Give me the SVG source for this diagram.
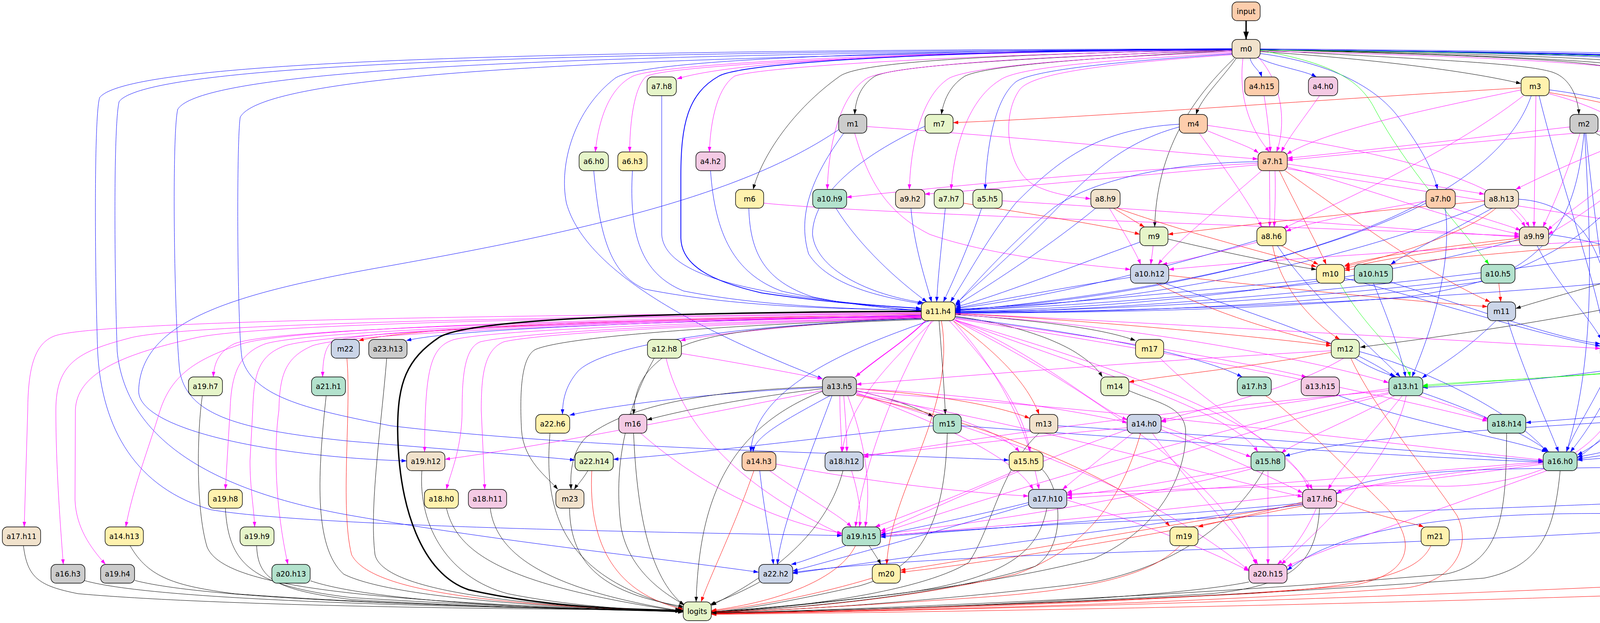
<svg xmlns="http://www.w3.org/2000/svg" width="5426" height="1595" viewBox="0 0 5426 1595">
<style>
.e{fill:none;stroke-width:1}
.k{stroke:#000;marker-end:url(#ak)}
.b{stroke:#00f;marker-end:url(#ab)}
.m{stroke:#f0f;marker-end:url(#am)}
.r{stroke:#f00;marker-end:url(#ar)}
.g{stroke:#0f0;marker-end:url(#ag)}
.w2{stroke-width:2}
.w3{stroke-width:3.5;marker-end:url(#ak3)}
.node rect{stroke:#000;stroke-width:1.4}
.node text{font-family:"DejaVu Sans","Liberation Sans",sans-serif;font-size:18.67px;text-anchor:middle;fill:#000}
.f1{fill:#b3e2cd}.f2{fill:#fdcdac}.f3{fill:#cbd5e8}.f4{fill:#f4cae4}.f5{fill:#e6f5c9}.f6{fill:#fff2ae}.f7{fill:#f1e2cc}.f8{fill:#cccccc}
</style>
<defs>
<marker id="ak" viewBox="0 0 13 9" refX="13" refY="4.5" markerWidth="13" markerHeight="9" markerUnits="userSpaceOnUse" orient="auto"><path d="M0,0 L13,4.5 L0,9 z" fill="#000"/></marker>
<marker id="ab" viewBox="0 0 13 9" refX="13" refY="4.5" markerWidth="13" markerHeight="9" markerUnits="userSpaceOnUse" orient="auto"><path d="M0,0 L13,4.5 L0,9 z" fill="#00f"/></marker>
<marker id="am" viewBox="0 0 13 9" refX="13" refY="4.5" markerWidth="13" markerHeight="9" markerUnits="userSpaceOnUse" orient="auto"><path d="M0,0 L13,4.5 L0,9 z" fill="#f0f"/></marker>
<marker id="ar" viewBox="0 0 13 9" refX="13" refY="4.5" markerWidth="13" markerHeight="9" markerUnits="userSpaceOnUse" orient="auto"><path d="M0,0 L13,4.5 L0,9 z" fill="#f00"/></marker>
<marker id="ag" viewBox="0 0 13 9" refX="13" refY="4.5" markerWidth="13" markerHeight="9" markerUnits="userSpaceOnUse" orient="auto"><path d="M0,0 L13,4.5 L0,9 z" fill="#0f0"/></marker>
<marker id="ak3" viewBox="0 0 20 14" refX="20" refY="7" markerWidth="20" markerHeight="14" markerUnits="userSpaceOnUse" orient="auto"><path d="M0,0 L20,7 L0,14 z" fill="#000"/></marker>
</defs>
<rect width="5426" height="1595" fill="#fff"/>
<g id="connectors">
<path class="e k w3" d="M3190 53 L3190 101"/>
<path class="e k" d="M3154 128 C2700 145 2300 165 2240 195 C2200 220 2190 260 2188 293"/>
<path class="e k" d="M3154 130 C2750 150 2520 170 2470 195 C2430 220 2415 260 2410 293"/>
<path class="e k" d="M3154 127 C2500 140 2200 160 2150 195 C2030 280 1950 400 1928 485"/>
<path class="e k" d="M3165 149 C3130 200 3075 250 3062 293"/>
<path class="e k" d="M3226 132 C3500 150 3750 180 3894 214"/>
<path class="e k" d="M3226 128 C3600 150 3900 160 3975 185 C4020 200 4040 250 4042 293"/>
<path class="e k" d="M3226 126 C3700 140 4100 150 4200 175 C4270 195 4290 250 4295 293"/>
<path class="e k" d="M3226 127 C3700 140 4100 150 4170 185 C4225 215 4225 330 4215 389"/>
<path class="e k" d="M3160 149 C3000 300 2960 450 2956 581"/>
<path class="e k" d="M3226 127 C3900 140 4300 150 4380 195 C4470 250 4490 400 4480 500 C4460 650 4100 720 3880 790"/>
<path class="e k" d="M3226 127 C4300 140 4700 160 4800 200 C4880 240 4870 450 4700 600 C4500 760 3700 860 3482 889"/>
<path class="e b" d="M3200 149 C3205 170 3225 180 3230 197"/>
<path class="e b" d="M3215 145 C3260 170 3340 180 3370 197"/>
<path class="e m" d="M3154 125 C2500 130 1900 150 1733 202"/>
<path class="e m" d="M3154 125 C2400 130 1700 160 1620 195 C1550 230 1530 330 1524 389"/>
<path class="e m" d="M3154 126 C2400 132 1720 165 1655 195 C1620 225 1612 330 1612 389"/>
<path class="e m" d="M3154 128 C2500 138 1950 170 1880 195 C1830 230 1818 330 1816 389"/>
<path class="e m" d="M3154 130 C2600 145 2280 170 2220 200 C2140 250 2120 400 2118 485"/>
<path class="e m" d="M3154 133 C2700 150 2480 175 2430 200 C2350 250 2330 400 2328 485"/>
<path class="e m" d="M3154 136 C2800 155 2600 175 2560 205 C2470 260 2440 400 2435 485"/>
<path class="e b" d="M3154 138 C2850 158 2640 180 2600 210 C2540 260 2525 400 2522 485"/>
<path class="e m" d="M3154 140 C2800 165 2640 190 2610 230 C2560 300 2580 440 2650 475 C2700 500 2760 505 2792 509"/>
<path class="e m" d="M3182 149 C3170 250 3200 330 3250 389"/>
<path class="e m" d="M3220 145 C3290 220 3290 330 3268 389"/>
<path class="e b" d="M3226 137 C3400 160 3520 220 3580 300 C3640 380 3670 440 3680 485"/>
<path class="e g" d="M3226 129 C3400 160 3480 200 3520 280 C3600 430 3720 560 3812 677"/>
<path class="e m" d="M3226 131 C3900 145 4250 170 4330 210 C4420 260 4430 450 4410 581"/>
<path class="e b" d="M3226 125 C4600 135 5200 160 5300 195 C5360 230 5378 320 5381 389"/>
<path class="e b w2" d="M3154 125 C2400 130 1900 160 1840 195 C1760 240 1743 320 1743 450 L1743 610 C1745 680 1820 720 1950 750 C2150 780 2300 785 2358 790"/>
<path class="e b" d="M3154 125 C2300 130 1650 150 1575 200 C1470 280 1430 420 1450 520 C1500 700 1800 850 2106 970"/>
<path class="e b" d="M3154 125 C1500 128 330 150 255 250 C240 300 243 700 250 900 C260 1100 350 1250 540 1305 C800 1350 1800 1365 2156 1371"/>
<path class="e b" d="M3154 126 C1500 132 380 160 305 260 C290 320 293 700 300 900 C320 1100 500 1250 900 1320 C1300 1390 1700 1430 1942 1465"/>
<path class="e b" d="M3154 127 C1600 135 520 170 455 280 C440 340 445 800 460 950 C480 1060 600 1100 900 1130 C1200 1155 1400 1170 1472 1178"/>
<path class="e b" d="M3154 128 C1700 140 680 180 615 300 C605 360 607 850 620 920 C650 1020 800 1050 1000 1090 C1500 1150 2200 1160 2583 1178"/>
<path class="e b" d="M3226 127 C4400 140 4800 160 4835 280 L4838 900 C4838 1100 4300 1160 4038 1178"/>
<path class="e b" d="M3226 127 C4500 140 4910 160 4947 280 L4950 850 C4950 1000 4200 1060 3906 1082"/>
<path class="e b" d="M3226 127 C4600 140 5050 160 5090 290 L5093 1100 C5093 1200 4500 1190 3900 1200 C3600 1205 3470 1230 3421 1265"/>
<path class="e b" d="M3226 127 C4700 140 5100 165 5143 300 L5146 1150 C5146 1280 4000 1290 3000 1330 C2600 1345 2350 1365 2254 1372"/>
<path class="e b" d="M3226 127 C4700 140 5150 170 5192 300 L5195 1200 C5195 1350 3500 1390 2700 1420 C2300 1435 2100 1455 2029 1466"/>
<path class="e b" d="M3226 127 C4800 140 5250 170 5295 300 L5298 1040 C5298 1200 4900 1340 4600 1330 C4000 1300 3500 1300 3295 1460"/>
<path class="e b" d="M3226 127 C4750 140 5200 170 5246 300 L5249 900 C5249 1000 4800 1040 4300 1070 C3800 1100 3450 1120 3289 1168"/>
<path class="e b" d="M3226 127 C4300 140 4660 160 4697 270 L4700 700 C4700 800 4400 870 4184 892"/>
<path class="e g" d="M3226 128 C4600 142 4990 170 5036 290 L5039 600 C5039 800 4600 900 4300 940 C4000 970 3750 975 3642 987"/>
<path class="e r" d="M3894 225 C3300 260 2800 300 2440 314"/>
<path class="e r" d="M3966 237 C4100 260 4200 285 4267 307"/>
<path class="e m" d="M3895 230 C3700 270 3400 330 3294 395"/>
<path class="e m" d="M3900 245 C3700 400 3400 530 3285 585"/>
<path class="e m" d="M3932 245 L3927 581"/>
<path class="e m" d="M3966 240 C4200 300 4360 450 4396 581"/>
<path class="e b" d="M3920 245 C3850 450 3500 700 2446 796"/>
<path class="e b" d="M3940 245 C3990 450 4080 700 4110 869"/>
<path class="e b" d="M3966 230 C4200 260 4400 340 4500 450 C4650 620 4700 850 4500 1000 C4300 1120 4100 1160 4038 1170"/>
<path class="e m" d="M2219 324 C2600 350 3000 390 3220 407"/>
<path class="e m" d="M2188 341 C2220 450 2260 540 2380 600 C2550 660 2800 680 2894 690"/>
<path class="e b" d="M2160 341 C2080 450 2040 550 2070 650 C2120 730 2250 760 2362 778"/>
<path class="e b" d="M2147 332 C1900 500 1500 590 1000 680 C600 750 360 820 355 1000 C352 1100 700 1170 1041 1180"/>
<path class="e b" d="M2368 323 C2200 400 2080 500 2080 600 C2090 700 2250 760 2365 775"/>
<path class="e m" d="M3092 335 C3150 360 3200 375 3222 392"/>
<path class="e m" d="M3070 341 C3150 450 3210 540 3230 581"/>
<path class="e m" d="M3091 321 C3500 380 3850 450 3915 581"/>
<path class="e b" d="M3019 318 C2800 330 2700 420 2600 520 C2520 620 2470 720 2433 773"/>
<path class="e b" d="M3019 325 C2850 370 2760 480 2680 560 C2580 660 2500 730 2446 778"/>
<path class="e m" d="M4019 325 C3800 350 3500 385 3296 405"/>
<path class="e m" d="M4045 341 C4010 450 3970 540 3950 581"/>
<path class="e k" d="M4085 341 C4120 360 4150 375 4172 389"/>
<path class="e b" d="M4055 341 C4040 500 4000 650 3800 720 C3300 790 2800 800 2446 801"/>
<path class="e b" d="M4060 341 C4080 550 4110 750 4125 869"/>
<path class="e b" d="M4057 341 C4070 600 4090 900 4010 1157"/>
<path class="e k" d="M4280 341 C4260 360 4245 375 4235 389"/>
<path class="e m" d="M4267 322 C3900 350 3500 390 3296 410"/>
<path class="e m" d="M4267 325 C4100 380 3950 450 3880 485"/>
<path class="e m" d="M4280 341 C4150 450 4000 550 3962 590"/>
<path class="e m" d="M4310 341 C4340 450 4360 520 4370 581"/>
<path class="e b" d="M4320 341 C4400 500 4420 700 4350 800 C4280 860 4220 880 4184 890"/>
<path class="e b" d="M4339 321 C4650 360 4950 500 5000 700 C5030 900 4600 1100 4038 1175"/>
<path class="e b" d="M4335 340 C4500 500 4600 700 4500 850 C4300 950 3800 985 3642 992"/>
<path class="e m" d="M3236 245 C3245 300 3250 350 3252 389"/>
<path class="e m" d="M3378 245 C3340 300 3300 350 3280 389"/>
<path class="e b" d="M1694 245 L1694 600 C1700 700 1900 760 2358 790"/>
<path class="e b" d="M1520 437 C1535 600 1560 700 1650 740 C1900 790 2200 792 2358 793"/>
<path class="e b" d="M1619 437 C1610 600 1640 700 1750 745 C1950 785 2200 792 2358 794"/>
<path class="e b" d="M1819 437 C1830 600 1880 700 2000 745 C2150 780 2300 790 2358 795"/>
<path class="e m" d="M3220 418 C2800 440 2400 480 2167 505"/>
<path class="e m" d="M3220 422 C2900 450 2600 480 2367 497"/>
<path class="e m" d="M3296 420 C3500 450 3700 480 3800 497"/>
<path class="e m" d="M3250 437 C3250 500 3252 550 3250 581"/>
<path class="e m" d="M3264 437 C3266 500 3263 550 3262 581"/>
<path class="e m" d="M3296 428 C3500 480 3700 560 3890 600"/>
<path class="e m" d="M3296 432 C3700 500 4100 560 4348 598"/>
<path class="e m" d="M3230 437 C3100 550 3000 630 2965 677"/>
<path class="e r" d="M3275 437 C3320 530 3370 620 3395 677"/>
<path class="e r" d="M3290 437 C3450 550 3650 700 3815 773"/>
<path class="e b" d="M3220 414 C3000 416 2800 460 2700 530 C2600 610 2500 720 2446 781"/>
<path class="e m" d="M4190 437 C4100 520 4000 580 3963 600"/>
<path class="e b" d="M4190 437 C4100 600 3900 720 3600 760 C3200 795 2800 800 2446 802"/>
<path class="e b" d="M4215 437 C4230 600 4190 780 4160 869"/>
<path class="e b" d="M4225 437 C4260 700 4150 1000 4020 1157"/>
<path class="e r" d="M5380 437 C5375 600 5367 800 5367 1000 L5365 1370 C5365 1430 5250 1470 5000 1490 C4000 1540 2600 1565 1821 1573"/>
<path class="e b" d="M1917 533 C1920 650 1960 720 2080 760 C2200 785 2300 790 2358 796"/>
<path class="e m" d="M1955 520 C2200 545 3000 570 3890 604"/>
<path class="e b" d="M2140 533 C2200 630 2300 720 2373 773"/>
<path class="e b" d="M2332 533 C2340 630 2370 720 2385 773"/>
<path class="e b" d="M2420 533 C2410 630 2400 720 2398 773"/>
<path class="e r" d="M2466 520 C2650 550 2850 580 2918 600"/>
<path class="e b" d="M2513 533 C2480 630 2440 720 2415 773"/>
<path class="e m" d="M2565 514 C3000 540 3500 580 3890 607"/>
<path class="e r" d="M2850 533 C2880 550 2910 570 2930 581"/>
<path class="e m" d="M2840 533 C2880 600 2910 650 2920 677"/>
<path class="e r" d="M2860 533 C3050 600 3250 650 3370 683"/>
<path class="e b" d="M2805 533 C2700 620 2550 720 2446 783"/>
<path class="e m" d="M3650 515 C3500 540 3350 570 3292 592"/>
<path class="e m" d="M3720 533 C3800 560 3870 580 3893 590"/>
<path class="e b" d="M3650 520 C3400 650 2900 770 2446 793"/>
<path class="e b" d="M3700 533 C3720 700 3650 880 3615 965"/>
<path class="e r" d="M3801 515 C3500 540 3150 580 2990 600"/>
<path class="e m" d="M3865 533 C3880 550 3895 565 3905 581"/>
<path class="e r" d="M3830 533 C3750 600 3550 660 3442 682"/>
<path class="e b" d="M3820 533 C3700 600 3600 650 3560 677"/>
<path class="e b" d="M3801 523 C3500 650 3000 770 2446 795"/>
<path class="e b" d="M3888 510 C4050 520 4120 650 4130 869"/>
<path class="e m" d="M2952 629 C2950 650 2948 660 2946 677"/>
<path class="e k" d="M2990 612 C3150 650 3300 680 3370 690"/>
<path class="e b" d="M2918 620 C2750 680 2550 760 2446 786"/>
<path class="e m" d="M3219 620 C3100 650 3020 670 2975 677"/>
<path class="e r" d="M3280 629 C3320 650 3350 665 3375 677"/>
<path class="e b" d="M3219 615 C3000 680 2700 760 2446 790"/>
<path class="e r" d="M3258 629 C3280 750 3380 840 3430 869"/>
<path class="e b" d="M3270 629 C3350 750 3500 880 3585 965"/>
<path class="e r" d="M3890 610 C3700 630 3500 660 3442 680"/>
<path class="e r" d="M3890 615 C3700 640 3520 665 3442 688"/>
<path class="e b" d="M3965 600 C4100 620 4200 650 4260 677"/>
<path class="e b" d="M3890 612 C3600 700 3000 790 2446 797"/>
<path class="e b" d="M3935 629 C3980 720 4060 800 4100 869"/>
<path class="e m" d="M4348 605 C3800 630 3300 660 2992 690"/>
<path class="e r" d="M4348 608 C3900 640 3600 670 3442 692"/>
<path class="e b" d="M4348 615 C3900 700 3000 795 2446 800"/>
<path class="e b" d="M4380 629 C4340 700 4250 830 4180 872"/>
<path class="e g" d="M4414 629 C4470 700 4480 900 4400 930 C4100 960 3800 975 3642 990"/>
<path class="e b" d="M4395 629 C4400 800 4250 1050 4038 1165"/>
<path class="e b" d="M2894 710 C2700 740 2550 770 2446 789"/>
<path class="e r" d="M2992 705 C3300 740 3600 770 3808 785"/>
<path class="e r" d="M2960 725 C3100 800 3300 860 3408 880"/>
<path class="e b" d="M2980 725 C3200 800 3450 880 3570 965"/>
<path class="e b" d="M3370 715 C3000 750 2700 780 2446 792"/>
<path class="e g" d="M3430 725 C3500 850 3600 920 3610 965"/>
<path class="e b" d="M3442 712 C3700 780 3950 860 4097 886"/>
<path class="e b" d="M3467 715 C3100 755 2750 785 2446 794"/>
<path class="e b" d="M3516 725 C3560 830 3590 920 3598 965"/>
<path class="e b" d="M3560 722 C3800 800 4000 870 4097 880"/>
<path class="e b" d="M3792 712 C3400 760 2900 795 2446 798"/>
<path class="e r" d="M3837 725 L3842 773"/>
<path class="e b" d="M4260 710 C3800 760 3000 800 2446 799"/>
<path class="e b" d="M4330 725 C4360 740 4380 755 4390 773"/>
<path class="e b" d="M4290 725 C4230 780 4180 830 4170 869"/>
<path class="e b" d="M4300 725 C4290 900 4150 1100 4038 1172"/>
<path class="e b" d="M3830 821 C3750 900 3680 940 3640 968"/>
<path class="e b" d="M3860 821 C3900 950 3960 1080 3990 1157"/>
<path class="e r" d="M4448 803 C4750 870 4980 950 5040 1030 C5090 1100 5097 1200 5097 1370 C5097 1420 5000 1450 4900 1460 C4000 1520 2600 1560 1821 1572"/>
<path class="e r" d="M2359 805 C1800 815 1100 830 918 872"/>
<path class="e b" d="M2359 807 C1900 820 1200 835 1040 872"/>
<path class="e m" d="M2359 808 C2100 830 1850 850 1742 872"/>
<path class="e m" d="M2359 810 C1500 820 700 840 600 880 C560 900 548 930 546 965"/>
<path class="e m" d="M2359 811 C1600 822 950 840 850 875 C830 890 826 930 826 965"/>
<path class="e m" d="M2359 800 C1400 805 250 820 140 860 C85 880 72 950 71 1050 L62 1349"/>
<path class="e m" d="M2359 802 C1400 810 450 830 330 866 C200 900 143 930 143 1050 C143 1200 155 1350 162 1445"/>
<path class="e m" d="M2359 803 C1500 812 650 830 500 865 C300 910 196 960 193 1050 L192 1280 C195 1350 230 1400 270 1445"/>
<path class="e m" d="M2359 806 C1500 815 750 840 620 880 C500 920 440 960 410 1050 C380 1150 340 1250 322 1349"/>
<path class="e m" d="M2359 808 C1600 818 800 845 680 880 C610 905 592 960 589 1050 L577 1253"/>
<path class="e m" d="M2359 809 C1650 820 850 848 730 885 C660 910 650 960 647 1050 L640 1180 C640 1250 650 1300 652 1349"/>
<path class="e m" d="M2359 810 C1700 822 900 850 800 885 C730 915 716 960 714 1050 C700 1150 705 1300 737 1445"/>
<path class="e m" d="M2359 812 C1800 825 1250 845 1160 870 C1100 890 1088 950 1087 1157"/>
<path class="e m" d="M2359 813 C1850 826 1350 848 1230 875 C1190 890 1183 960 1183 1050 C1183 1150 1150 1220 1143 1253"/>
<path class="e m" d="M2359 814 C1900 828 1400 850 1290 875 C1240 895 1232 960 1232 1050 L1241 1253"/>
<path class="e k" d="M2359 815 C1900 830 1450 860 1370 895 C1335 915 1330 1000 1335 1100 C1340 1180 1400 1220 1428 1253"/>
<path class="e k w3" d="M2359 797 C1600 800 1200 820 1125 863 C1040 920 1018 980 1018 1100 C1020 1300 1080 1470 1200 1510 C1400 1555 1600 1560 1749 1563"/>
<path class="e b" d="M2359 816 C1900 830 1550 880 1480 950 C1445 990 1440 1030 1440 1061"/>
<path class="e m w2" d="M2370 821 C2310 880 2240 920 2190 965"/>
<path class="e k" d="M2359 818 C2000 830 1800 850 1720 900 C1640 950 1625 1000 1622 1061"/>
<path class="e k" d="M2404 821 C2410 900 2418 1000 2420 1061"/>
<path class="e k" d="M2446 810 C2600 830 2700 870 2750 900 C2790 925 2810 945 2822 965"/>
<path class="e k" d="M2446 805 C2650 820 2820 840 2907 872"/>
<path class="e r" d="M2446 803 C2800 820 3200 860 3408 885"/>
<path class="e m" d="M2446 802 C3000 830 3700 870 4097 892"/>
<path class="e b" d="M2446 812 C2750 850 3050 900 3180 965"/>
<path class="e m" d="M2446 814 C2800 860 3150 920 3345 965"/>
<path class="e m" d="M2446 806 C2900 830 3400 930 3555 980"/>
<path class="e r" d="M2440 821 C2550 900 2630 980 2660 1061"/>
<path class="e m" d="M2440 818 C2650 900 2800 1040 2886 1075"/>
<path class="e m" d="M2446 816 C3000 900 3500 1000 3808 1078"/>
<path class="e m" d="M2444 818 C2800 950 3150 1050 3220 1157"/>
<path class="e m" d="M2430 821 C2550 950 2620 1050 2637 1157"/>
<path class="e b" d="M2380 821 C2150 900 1930 1000 1922 1157"/>
<path class="e m" d="M2390 821 C2250 950 2170 1050 2156 1157"/>
<path class="e m" d="M2440 821 C2600 1000 2640 1150 2660 1253"/>
<path class="e m" d="M2446 820 C2900 950 3300 1100 3350 1253"/>
<path class="e m" d="M2385 821 C2280 1000 2210 1200 2190 1349"/>
<path class="e m" d="M2446 821 C2800 1000 3150 1250 3215 1445"/>
<path class="e r" d="M2410 821 C2450 1050 2280 1250 2270 1445"/>
<path class="e r" d="M888 917 C900 1050 870 1300 900 1420 C950 1520 1300 1550 1749 1566"/>
<path class="e k" d="M990 917 C975 1100 945 1300 960 1420 C980 1510 1300 1550 1749 1567"/>
<path class="e m" d="M1744 905 C1900 930 2050 960 2106 970"/>
<path class="e m" d="M1705 917 C1750 1100 1900 1250 2156 1369"/>
<path class="e k" d="M1675 917 C1600 1050 1570 1200 1590 1350 C1610 1460 1700 1520 1752 1548"/>
<path class="e m" d="M2970 917 C3100 1050 3300 1150 3360 1253"/>
<path class="e r" d="M3408 902 C3200 940 3000 960 2890 978"/>
<path class="e m" d="M3408 898 C3000 920 2500 960 2192 984"/>
<path class="e b" d="M3468 917 C3520 950 3560 960 3575 965"/>
<path class="e m" d="M3440 917 C3300 1000 3100 1040 2972 1078"/>
<path class="e b" d="M3480 900 C3700 960 3900 1080 3960 1157"/>
<path class="e r" d="M3458 917 C3520 1050 3650 1200 3730 1320 C3770 1400 3720 1490 3600 1505 C3000 1550 2200 1565 1821 1571"/>
<path class="e b" d="M4130 917 C4100 1000 4030 1100 4010 1157"/>
<path class="e m" d="M4150 917 C4180 1100 4000 1240 3700 1245 C3400 1240 3000 1250 2731 1265"/>
<path class="e k" d="M518 1013 C505 1100 500 1300 530 1400 C570 1500 900 1540 1749 1566"/>
<path class="e k" d="M835 1013 C815 1200 800 1400 880 1470 C1000 1530 1400 1555 1749 1567"/>
<path class="e b" d="M2106 992 C1900 1000 1600 1030 1458 1063"/>
<path class="e k" d="M2105 995 C1900 1020 1750 1050 1656 1075"/>
<path class="e k" d="M2192 1000 C2280 1020 2340 1040 2389 1067"/>
<path class="e r" d="M2192 995 C2400 1010 2560 1040 2636 1071"/>
<path class="e b" d="M2125 1013 C2000 1080 1930 1120 1928 1157"/>
<path class="e b" d="M2130 1013 C2060 1200 2000 1350 1990 1445"/>
<path class="e m" d="M2150 1013 C2150 1080 2155 1120 2155 1157"/>
<path class="e m" d="M2160 1013 C2165 1080 2168 1120 2168 1157"/>
<path class="e m" d="M2170 1013 C2220 1150 2230 1250 2215 1349"/>
<path class="e m" d="M2192 995 C2500 1010 2750 1050 2886 1082"/>
<path class="e m" d="M2192 1000 C2400 1050 2560 1100 2610 1157"/>
<path class="e m" d="M2106 1000 C1700 1080 1400 1140 1139 1176"/>
<path class="e m" d="M2192 1005 C2450 1100 2600 1180 2645 1253"/>
<path class="e m" d="M2192 1008 C2700 1150 3000 1300 3197 1460"/>
<path class="e m" d="M2192 1010 C2700 1100 3100 1220 3335 1272"/>
<path class="e m" d="M2192 1003 C2900 1050 3500 1130 3951 1178"/>
<path class="e r" d="M2192 1012 C2600 1100 2900 1250 2995 1347"/>
<path class="e k" d="M2105 990 C1800 1000 1600 1040 1500 1120 C1460 1160 1460 1220 1462 1253"/>
<path class="e k" d="M2110 1000 C1850 1100 1790 1300 1782 1541"/>
<path class="e k" d="M2890 1000 C2960 1030 3030 1040 3035 1100 C3040 1200 2980 1350 2800 1430 C2500 1510 2000 1555 1821 1566"/>
<path class="e r" d="M3240 1013 C3300 1050 3450 1200 3550 1300 C3640 1400 3600 1480 3450 1500 C2900 1545 2200 1565 1821 1571"/>
<path class="e b" d="M3420 1010 C3600 1080 3850 1120 3960 1157"/>
<path class="e m" d="M3555 995 C3300 1030 3100 1060 2972 1080"/>
<path class="e m" d="M3630 1013 C3720 1040 3780 1060 3810 1075"/>
<path class="e m" d="M3570 1013 C3450 1080 3320 1130 3280 1160"/>
<path class="e m" d="M3590 1013 C3520 1100 3430 1200 3400 1253"/>
<path class="e m" d="M3600 1013 C3560 1200 3350 1380 3280 1445"/>
<path class="e m" d="M3555 1000 C3000 1050 2500 1120 2210 1170"/>
<path class="e m" d="M3555 1005 C3100 1100 2600 1250 2254 1365"/>
<path class="e m" d="M3555 1008 C3200 1100 2900 1200 2731 1262"/>
<path class="e b" d="M3640 1005 C3800 1060 3920 1120 3965 1157"/>
<path class="e k" d="M1408 1109 C1392 1300 1430 1480 1749 1557"/>
<path class="e m" d="M1640 1109 C1800 1250 2000 1340 2156 1365"/>
<path class="e k" d="M1622 1109 C1630 1300 1660 1480 1752 1550"/>
<path class="e b" d="M2389 1090 C2100 1120 1800 1160 1570 1176"/>
<path class="e b" d="M2461 1090 C3000 1130 3600 1170 3951 1183"/>
<path class="e k" d="M2425 1109 C2420 1300 2380 1450 2200 1500 C2000 1545 1900 1560 1821 1567"/>
<path class="e b" d="M2708 1090 C3200 1120 3700 1160 3951 1181"/>
<path class="e k" d="M2660 1109 C2560 1200 2540 1350 2480 1440 C2350 1520 2000 1560 1821 1567"/>
<path class="e m" d="M2972 1090 C3050 1120 3150 1150 3203 1170"/>
<path class="e m" d="M2972 1100 C3100 1150 3250 1220 3335 1262"/>
<path class="e m" d="M2900 1109 C2820 1170 2760 1220 2720 1253"/>
<path class="e m" d="M2950 1109 C3050 1250 3180 1380 3220 1445"/>
<path class="e m" d="M2886 1100 C2600 1200 2400 1300 2254 1360"/>
<path class="e m" d="M2886 1095 C2600 1120 2400 1150 2210 1165"/>
<path class="e r" d="M2920 1109 C2880 1250 2800 1400 2600 1470 C2300 1540 2000 1560 1821 1567"/>
<path class="e k" d="M3857 1109 C3855 1300 3850 1440 3700 1470 C3000 1530 2200 1560 1821 1570"/>
<path class="e k" d="M1080 1205 C1070 1350 1150 1480 1300 1520 C1450 1550 1600 1560 1749 1566"/>
<path class="e k" d="M1505 1205 C1490 1230 1475 1245 1470 1253"/>
<path class="e r" d="M1515 1205 C1505 1400 1580 1520 1749 1560"/>
<path class="e b" d="M1945 1205 C1955 1300 1975 1400 1980 1445"/>
<path class="e m" d="M1970 1205 C2060 1270 2150 1320 2180 1349"/>
<path class="e m" d="M1986 1188 C2200 1230 2450 1260 2633 1270"/>
<path class="e r" d="M1930 1205 C1880 1350 1815 1480 1795 1541"/>
<path class="e m" d="M2180 1205 C2200 1270 2205 1320 2200 1349"/>
<path class="e k" d="M2158 1205 C2120 1350 2000 1460 1821 1550"/>
<path class="e m" d="M2600 1205 C2450 1270 2320 1320 2240 1349"/>
<path class="e k" d="M2666 1200 C2720 1250 2730 1400 2650 1450 C2400 1530 2000 1560 1821 1568"/>
<path class="e m" d="M3246 1205 L3246 1445"/>
<path class="e m" d="M3203 1195 C3000 1230 2850 1260 2731 1268"/>
<path class="e m" d="M3205 1200 C2900 1280 2500 1340 2254 1368"/>
<path class="e k" d="M3235 1205 C3150 1350 3000 1450 2800 1490 C2400 1540 2000 1565 1821 1568"/>
<path class="e m" d="M3951 1185 C3700 1210 3500 1240 3421 1262"/>
<path class="e m" d="M3951 1182 C3500 1220 3000 1260 2731 1275"/>
<path class="e m" d="M3951 1188 C3500 1250 2800 1330 2254 1372"/>
<path class="e m" d="M3960 1205 C3700 1300 3400 1400 3295 1450"/>
<path class="e k" d="M3994 1205 C3980 1350 3950 1450 3800 1480 C3100 1535 2200 1562 1821 1570"/>
<path class="e k" d="M577 1301 C585 1450 650 1500 900 1530 C1300 1555 1600 1562 1749 1565"/>
<path class="e k" d="M1143 1301 C1170 1420 1300 1500 1749 1566"/>
<path class="e k" d="M1255 1301 C1270 1420 1400 1510 1749 1565"/>
<path class="e k" d="M1458 1301 C1460 1450 1550 1520 1750 1553"/>
<path class="e b" d="M2640 1290 C2400 1360 2150 1430 2029 1462"/>
<path class="e b" d="M2640 1285 C2500 1320 2350 1350 2254 1370"/>
<path class="e m" d="M2731 1280 C2900 1330 3100 1410 3197 1462"/>
<path class="e k" d="M2680 1301 C2660 1400 2600 1480 2300 1520 C2100 1545 1950 1560 1821 1566"/>
<path class="e r" d="M3335 1285 C3200 1320 3100 1340 3067 1349"/>
<path class="e r" d="M3421 1282 C3520 1320 3620 1340 3645 1349"/>
<path class="e r" d="M3335 1290 C2900 1360 2500 1430 2305 1460"/>
<path class="e r" d="M3335 1295 C2900 1380 2500 1445 2305 1465"/>
<path class="e m" d="M3370 1301 C3340 1370 3300 1420 3270 1445"/>
<path class="e b" d="M3335 1288 C3000 1320 2500 1355 2254 1375"/>
<path class="e b" d="M3335 1292 C2800 1360 2300 1430 2029 1468"/>
<path class="e k" d="M3378 1301 C3370 1450 3300 1500 3100 1520 C2600 1550 2100 1565 1821 1569"/>
<path class="e k" d="M60 1397 C70 1480 100 1500 200 1520 C600 1555 1400 1560 1749 1562"/>
<path class="e k" d="M333 1397 C380 1480 450 1500 600 1520 C1000 1550 1500 1560 1749 1564"/>
<path class="e k" d="M657 1397 C660 1480 700 1510 900 1535 C1300 1558 1600 1563 1749 1565"/>
<path class="e b" d="M2165 1397 C2100 1420 2050 1440 2025 1445"/>
<path class="e k" d="M2225 1397 C2240 1420 2250 1435 2255 1445"/>
<path class="e r" d="M2190 1397 C2150 1480 2000 1540 1821 1563"/>
<path class="e r" d="M3021 1397 C2950 1470 2800 1510 2500 1530 C2200 1550 2000 1563 1821 1568"/>
<path class="e r" d="M3663 1397 C3630 1470 3500 1500 3200 1520 C2600 1550 2100 1565 1821 1570"/>
<path class="e k" d="M215 1486 C400 1540 1200 1555 1749 1563"/>
<path class="e k" d="M345 1486 C550 1540 1300 1555 1749 1564"/>
<path class="e k" d="M795 1487 C950 1540 1400 1560 1749 1566"/>
<path class="e k" d="M1945 1490 C1890 1520 1850 1535 1818 1548"/>
<path class="e r" d="M2233 1480 C2100 1520 1950 1550 1821 1565"/>
<path class="e k" d="M3197 1490 C3000 1530 2400 1560 1821 1569"/>
</g>
<g id="n-input" class="node"><rect class="f2" x="3154" y="5" width="72" height="48" rx="13"/><text x="3190" y="35.5">input</text></g>
<g id="n-m0" class="node"><rect class="f7" x="3154" y="101" width="72" height="48" rx="13"/><text x="3190" y="131.5">m0</text></g>
<g id="n-a7.h8" class="node"><rect class="f5" x="1656.5" y="197" width="75" height="48" rx="13"/><text x="1694" y="227.5">a7.h8</text></g>
<g id="n-a4.h15" class="node"><rect class="f2" x="3186.5" y="197" width="87" height="48" rx="13"/><text x="3230" y="227.5">a4.h15</text></g>
<g id="n-a4.h0" class="node"><rect class="f4" x="3349.5" y="197" width="75" height="48" rx="13"/><text x="3387" y="227.5">a4.h0</text></g>
<g id="n-m3" class="node"><rect class="f6" x="3894" y="197" width="72" height="48" rx="13"/><text x="3930" y="227.5">m3</text></g>
<g id="n-m1" class="node"><rect class="f8" x="2147" y="293" width="72" height="48" rx="13"/><text x="2183" y="323.5">m1</text></g>
<g id="n-m7" class="node"><rect class="f5" x="2368" y="293" width="72" height="48" rx="13"/><text x="2404" y="323.5">m7</text></g>
<g id="n-m4" class="node"><rect class="f2" x="3019" y="293" width="72" height="48" rx="13"/><text x="3055" y="323.5">m4</text></g>
<g id="n-m2" class="node"><rect class="f8" x="4019" y="293" width="72" height="48" rx="13"/><text x="4055" y="323.5">m2</text></g>
<g id="n-m5" class="node"><rect class="f7" x="4267" y="293" width="72" height="48" rx="13"/><text x="4303" y="323.5">m5</text></g>
<g id="n-a6.h0" class="node"><rect class="f5" x="1482.5" y="389" width="75" height="48" rx="13"/><text x="1520" y="419.5">a6.h0</text></g>
<g id="n-a6.h3" class="node"><rect class="f6" x="1581.5" y="389" width="75" height="48" rx="13"/><text x="1619" y="419.5">a6.h3</text></g>
<g id="n-a4.h2" class="node"><rect class="f4" x="1781.5" y="389" width="75" height="48" rx="13"/><text x="1819" y="419.5">a4.h2</text></g>
<g id="n-a7.h1" class="node"><rect class="f2" x="3220.5" y="389" width="75" height="48" rx="13"/><text x="3258" y="419.5">a7.h1</text></g>
<g id="n-m8" class="node"><rect class="f2" x="4171" y="389" width="72" height="48" rx="13"/><text x="4207" y="419.5">m8</text></g>
<g id="n-a17.h2" class="node"><rect class="f5" x="5337.5" y="389" width="87" height="48" rx="13"/><text x="5381" y="419.5">a17.h2</text></g>
<g id="n-m6" class="node"><rect class="f6" x="1883" y="485" width="72" height="48" rx="13"/><text x="1919" y="515.5">m6</text></g>
<g id="n-a10.h9" class="node"><rect class="f1" x="2080.5" y="485" width="87" height="48" rx="13"/><text x="2124" y="515.5">a10.h9</text></g>
<g id="n-a9.h2" class="node"><rect class="f7" x="2292.5" y="485" width="75" height="48" rx="13"/><text x="2330" y="515.5">a9.h2</text></g>
<g id="n-a7.h7" class="node"><rect class="f5" x="2391.5" y="485" width="75" height="48" rx="13"/><text x="2429" y="515.5">a7.h7</text></g>
<g id="n-a5.h5" class="node"><rect class="f5" x="2490.5" y="485" width="75" height="48" rx="13"/><text x="2528" y="515.5">a5.h5</text></g>
<g id="n-a8.h9" class="node"><rect class="f7" x="2792.5" y="485" width="75" height="48" rx="13"/><text x="2830" y="515.5">a8.h9</text></g>
<g id="n-a7.h0" class="node"><rect class="f2" x="3650.5" y="485" width="75" height="48" rx="13"/><text x="3688" y="515.5">a7.h0</text></g>
<g id="n-a8.h13" class="node"><rect class="f7" x="3800.5" y="485" width="87" height="48" rx="13"/><text x="3844" y="515.5">a8.h13</text></g>
<g id="n-m9" class="node"><rect class="f5" x="2918" y="581" width="72" height="48" rx="13"/><text x="2954" y="611.5">m9</text></g>
<g id="n-a8.h6" class="node"><rect class="f6" x="3217.5" y="581" width="75" height="48" rx="13"/><text x="3255" y="611.5">a8.h6</text></g>
<g id="n-a9.h9" class="node"><rect class="f7" x="3889.5" y="581" width="75" height="48" rx="13"/><text x="3927" y="611.5">a9.h9</text></g>
<g id="n-a9.h8" class="node"><rect class="f1" x="4347.5" y="581" width="75" height="48" rx="13"/><text x="4385" y="611.5">a9.h8</text></g>
<g id="n-a10.h12" class="node"><rect class="f3" x="2894" y="677" width="98" height="48" rx="13"/><text x="2943" y="707.5">a10.h12</text></g>
<g id="n-m10" class="node"><rect class="f6" x="3370" y="677" width="72" height="48" rx="13"/><text x="3406" y="707.5">m10</text></g>
<g id="n-a10.h15" class="node"><rect class="f1" x="3467" y="677" width="98" height="48" rx="13"/><text x="3516" y="707.5">a10.h15</text></g>
<g id="n-a10.h5" class="node"><rect class="f1" x="3791.5" y="677" width="87" height="48" rx="13"/><text x="3835" y="707.5">a10.h5</text></g>
<g id="n-a10.h1" class="node"><rect class="f2" x="4259.5" y="677" width="87" height="48" rx="13"/><text x="4303" y="707.5">a10.h1</text></g>
<g id="n-a11.h4" class="node"><rect class="f6" x="2358.5" y="773" width="87" height="48" rx="13"/><text x="2402" y="803.5">a11.h4</text></g>
<g id="n-m11" class="node"><rect class="f3" x="3808" y="773" width="72" height="48" rx="13"/><text x="3844" y="803.5">m11</text></g>
<g id="n-a11.h5" class="node"><rect class="f4" x="4360.5" y="773" width="87" height="48" rx="13"/><text x="4404" y="803.5">a11.h5</text></g>
<g id="n-m22" class="node"><rect class="f3" x="848" y="869" width="72" height="48" rx="13"/><text x="884" y="899.5">m22</text></g>
<g id="n-a23.h13" class="node"><rect class="f8" x="944" y="869" width="98" height="48" rx="13"/><text x="993" y="899.5">a23.h13</text></g>
<g id="n-a12.h8" class="node"><rect class="f5" x="1657.5" y="869" width="87" height="48" rx="13"/><text x="1701" y="899.5">a12.h8</text></g>
<g id="n-m17" class="node"><rect class="f6" x="2907" y="869" width="72" height="48" rx="13"/><text x="2943" y="899.5">m17</text></g>
<g id="n-m12" class="node"><rect class="f5" x="3408" y="869" width="72" height="48" rx="13"/><text x="3444" y="899.5">m12</text></g>
<g id="n-a12.h0" class="node"><rect class="f4" x="4096.5" y="869" width="87" height="48" rx="13"/><text x="4140" y="899.5">a12.h0</text></g>
<g id="n-a19.h7" class="node"><rect class="f5" x="482.5" y="965" width="87" height="48" rx="13"/><text x="526" y="995.5">a19.h7</text></g>
<g id="n-a21.h1" class="node"><rect class="f1" x="797.5" y="965" width="87" height="48" rx="13"/><text x="841" y="995.5">a21.h1</text></g>
<g id="n-a13.h5" class="node"><rect class="f8" x="2105.5" y="965" width="87" height="48" rx="13"/><text x="2149" y="995.5">a13.h5</text></g>
<g id="n-m14" class="node"><rect class="f5" x="2818" y="965" width="72" height="48" rx="13"/><text x="2854" y="995.5">m14</text></g>
<g id="n-a17.h3" class="node"><rect class="f1" x="3167.5" y="965" width="87" height="48" rx="13"/><text x="3211" y="995.5">a17.h3</text></g>
<g id="n-a13.h15" class="node"><rect class="f4" x="3331" y="965" width="98" height="48" rx="13"/><text x="3380" y="995.5">a13.h15</text></g>
<g id="n-a13.h1" class="node"><rect class="f1" x="3555.5" y="965" width="87" height="48" rx="13"/><text x="3599" y="995.5">a13.h1</text></g>
<g id="n-a22.h6" class="node"><rect class="f6" x="1371.5" y="1061" width="87" height="48" rx="13"/><text x="1415" y="1091.5">a22.h6</text></g>
<g id="n-m16" class="node"><rect class="f4" x="1584" y="1061" width="72" height="48" rx="13"/><text x="1620" y="1091.5">m16</text></g>
<g id="n-m15" class="node"><rect class="f1" x="2389" y="1061" width="72" height="48" rx="13"/><text x="2425" y="1091.5">m15</text></g>
<g id="n-m13" class="node"><rect class="f7" x="2636" y="1061" width="72" height="48" rx="13"/><text x="2672" y="1091.5">m13</text></g>
<g id="n-a14.h0" class="node"><rect class="f3" x="2885.5" y="1061" width="87" height="48" rx="13"/><text x="2929" y="1091.5">a14.h0</text></g>
<g id="n-a18.h14" class="node"><rect class="f1" x="3808" y="1061" width="98" height="48" rx="13"/><text x="3857" y="1091.5">a18.h14</text></g>
<g id="n-a19.h12" class="node"><rect class="f7" x="1041" y="1157" width="98" height="48" rx="13"/><text x="1090" y="1187.5">a19.h12</text></g>
<g id="n-a22.h14" class="node"><rect class="f5" x="1472" y="1157" width="98" height="48" rx="13"/><text x="1521" y="1187.5">a22.h14</text></g>
<g id="n-a14.h3" class="node"><rect class="f2" x="1899.5" y="1157" width="87" height="48" rx="13"/><text x="1943" y="1187.5">a14.h3</text></g>
<g id="n-a18.h12" class="node"><rect class="f3" x="2112" y="1157" width="98" height="48" rx="13"/><text x="2161" y="1187.5">a18.h12</text></g>
<g id="n-a15.h5" class="node"><rect class="f6" x="2583.5" y="1157" width="87" height="48" rx="13"/><text x="2627" y="1187.5">a15.h5</text></g>
<g id="n-a15.h8" class="node"><rect class="f1" x="3202.5" y="1157" width="87" height="48" rx="13"/><text x="3246" y="1187.5">a15.h8</text></g>
<g id="n-a16.h0" class="node"><rect class="f1" x="3950.5" y="1157" width="87" height="48" rx="13"/><text x="3994" y="1187.5">a16.h0</text></g>
<g id="n-a19.h8" class="node"><rect class="f6" x="533.5" y="1253" width="87" height="48" rx="13"/><text x="577" y="1283.5">a19.h8</text></g>
<g id="n-a18.h0" class="node"><rect class="f6" x="1086.5" y="1253" width="87" height="48" rx="13"/><text x="1130" y="1283.5">a18.h0</text></g>
<g id="n-a18.h11" class="node"><rect class="f4" x="1199" y="1253" width="98" height="48" rx="13"/><text x="1248" y="1283.5">a18.h11</text></g>
<g id="n-m23" class="node"><rect class="f7" x="1423" y="1253" width="72" height="48" rx="13"/><text x="1459" y="1283.5">m23</text></g>
<g id="n-a17.h10" class="node"><rect class="f3" x="2633" y="1253" width="98" height="48" rx="13"/><text x="2682" y="1283.5">a17.h10</text></g>
<g id="n-a17.h6" class="node"><rect class="f4" x="3334.5" y="1253" width="87" height="48" rx="13"/><text x="3378" y="1283.5">a17.h6</text></g>
<g id="n-a17.h11" class="node"><rect class="f7" x="6" y="1349" width="98" height="48" rx="13"/><text x="55" y="1379.5">a17.h11</text></g>
<g id="n-a14.h13" class="node"><rect class="f6" x="269" y="1349" width="98" height="48" rx="13"/><text x="318" y="1379.5">a14.h13</text></g>
<g id="n-a19.h9" class="node"><rect class="f5" x="614.5" y="1349" width="87" height="48" rx="13"/><text x="658" y="1379.5">a19.h9</text></g>
<g id="n-a19.h15" class="node"><rect class="f1" x="2156" y="1349" width="98" height="48" rx="13"/><text x="2205" y="1379.5">a19.h15</text></g>
<g id="n-m19" class="node"><rect class="f6" x="2995" y="1349" width="72" height="48" rx="13"/><text x="3031" y="1379.5">m19</text></g>
<g id="n-m21" class="node"><rect class="f6" x="3638" y="1349" width="72" height="48" rx="13"/><text x="3674" y="1379.5">m21</text></g>
<g id="n-a16.h3" class="node"><rect class="f8" x="130.5" y="1445" width="87" height="48" rx="13"/><text x="174" y="1475.5">a16.h3</text></g>
<g id="n-a19.h4" class="node"><rect class="f8" x="257.5" y="1445" width="87" height="48" rx="13"/><text x="301" y="1475.5">a19.h4</text></g>
<g id="n-a20.h13" class="node"><rect class="f1" x="696" y="1445" width="98" height="48" rx="13"/><text x="745" y="1475.5">a20.h13</text></g>
<g id="n-a22.h2" class="node"><rect class="f3" x="1942.5" y="1445" width="87" height="48" rx="13"/><text x="1986" y="1475.5">a22.h2</text></g>
<g id="n-m20" class="node"><rect class="f6" x="2233" y="1445" width="72" height="48" rx="13"/><text x="2269" y="1475.5">m20</text></g>
<g id="n-a20.h15" class="node"><rect class="f4" x="3197" y="1445" width="98" height="48" rx="13"/><text x="3246" y="1475.5">a20.h15</text></g>
<g id="n-logits" class="node"><rect class="f5" x="1749" y="1541" width="72" height="48" rx="13"/><text x="1785" y="1571.5">logits</text></g>
</svg>
